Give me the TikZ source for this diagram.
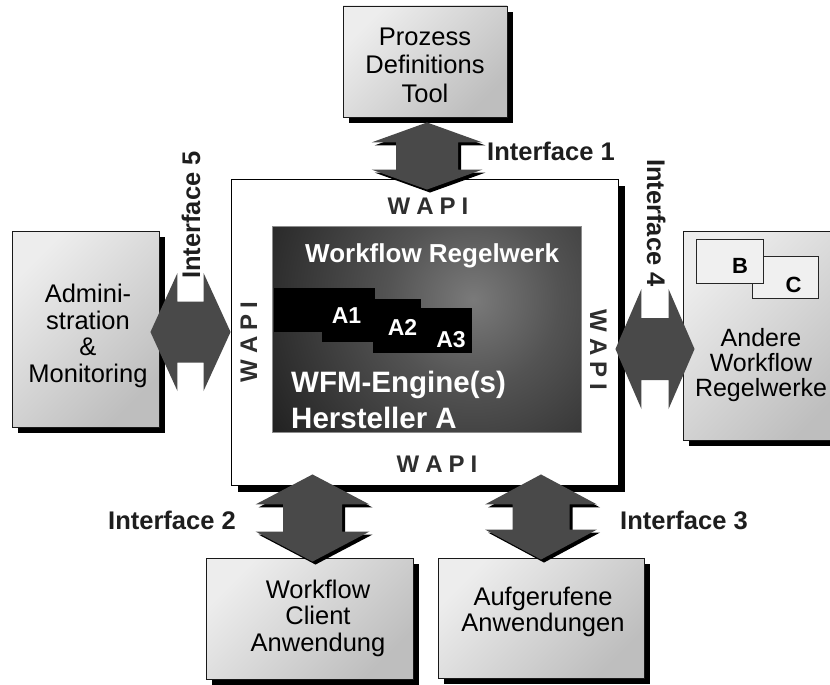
\documentclass[tikz,border=0pt]{standalone}
\usepackage{fontspec}
\setmainfont{Liberation Sans}
\usetikzlibrary{calc}

\definecolor{arrowgray}{HTML}{494949}
\definecolor{boxlight}{HTML}{EDEDED}
\definecolor{boxdark}{HTML}{BEBEBE}
\definecolor{labelink}{HTML}{1E1E1E}
\definecolor{wapiink}{HTML}{2E2E2E}
\definecolor{glowin}{HTML}{7A7A7A}
\definecolor{glowmid}{HTML}{535353}
\definecolor{glowout}{HTML}{1E1E1E}

% soft light spot inside the engine panel
\pgfdeclareradialshading{engineglow}{\pgfpoint{0bp}{0bp}}{%
  color(0bp)=(glowin); color(9bp)=(glowmid); color(26bp)=(glowout); color(50bp)=(glowout)}

\newcommand\wsp{\hspace{6pt}}

% outline of a double block arrow of length \arrlen along the x axis
% #1 head length, #2 head half width, #3 shaft half width
\newcommand\arrowoutline[3]{(0pt,0pt) -- (#1pt,#2pt) -- (#1pt,#3pt)
  -- ({\arrlen*1pt-#1pt},#3pt) -- ({\arrlen*1pt-#1pt},#2pt) -- ({\arrlen*1pt},0pt)
  -- ({\arrlen*1pt-#1pt},-#2pt) -- ({\arrlen*1pt-#1pt},-#3pt) -- (#1pt,-#3pt)
  -- (#1pt,-#2pt) -- cycle}

% double block arrow from tip #1 to tip #2
% #3 head length, #4 head half width, #5 shaft half width, #6 shadow offset
\newcommand\dblarrow[6]{%
  \path let \p1=(#1), \p2=(#2) in \pgfextra{%
    \pgfmathsetmacro\arrang{atan2(\y2-\y1,\x2-\x1)}%
    \pgfmathsetmacro\arrlen{veclen(\x2-\x1,\y2-\y1)}%
    \xdef\arrang{\arrang}\xdef\arrlen{\arrlen}%
    \xdef\arrx{\x1}\xdef\arry{\y1}};
  \ifdim#6pt>0pt
    \fill[black, shift={({\arrx+#6pt},{\arry-#6pt})}, rotate=\arrang] \arrowoutline{#3}{#4}{#5};
  \fi
  \fill[arrowgray, shift={(\arrx,\arry)}, rotate=\arrang] \arrowoutline{#3}{#4}{#5};
}

\begin{document}
\begin{tikzpicture}[x=1pt, y=-1pt,
  panel/.style={draw=black!90, line width=0.9pt, top color=boxlight, bottom color=boxdark,
    shading angle=45, preaction={fill=black, transform canvas={shift={(6pt,-6pt)}}},
    inner sep=0pt},
  coreframe/.style={draw=black, line width=0.9pt, fill=white,
    preaction={fill=black, transform canvas={shift={(7pt,-7pt)}}}, inner sep=0pt},
  minibox/.style={draw=black!85, line width=0.8pt, fill=black!6, inner sep=0pt},
  panetext/.style={align=center, inner sep=0pt, text=black,
    font=\fontsize{25.5}{26.5}\selectfont},
  engtext/.style={text=white, inner sep=0pt, anchor=base west,
    font=\bfseries\fontsize{29.5}{36}\selectfont},
  engineedge/.style={draw=black!45, line width=0.7pt},
  ablock/.style={fill=black, inner sep=0pt},
  alabel/.style={text=white, inner sep=0pt, anchor=base,
    font=\bfseries\fontsize{23}{23}\selectfont},
  boxletter/.style={text=black, inner sep=0pt,
    font=\bfseries\fontsize{22}{22}\selectfont},
  wapi/.style={text=wapiink, inner sep=0pt, anchor=base,
    font=\bfseries\fontsize{24}{24}\selectfont},
  iflabel/.style={text=labelink, inner sep=0pt,
    font=\bfseries\fontsize{25.5}{25.5}\selectfont}]

\clip (0,0) rectangle (830,685);
\fill[white] (0,0) rectangle (830,685);

% central frame with the WAPI interfaces
\node[coreframe, minimum width=387pt, minimum height=306pt] (core) at (424.5,332) {};

% surrounding components
\node[panel, minimum width=164pt, minimum height=111pt] (tool) at (425,61.5) {};
\node[panel, minimum width=147pt, minimum height=196pt] (admin) at (85.5,329) {};
\node[panel, minimum width=166pt, minimum height=209pt] (other) at (766,335.5) {};
\node[panel, minimum width=207pt, minimum height=121pt] (client) at (309.5,618.5) {};
\node[panel, minimum width=206pt, minimum height=120pt] (apps) at (541,618) {};

\node[panetext, font=\fontsize{25.5}{28.5}\selectfont] (tooltext) at (425,65) {Prozess\\Definitions\\Tool};
\node[panetext] (admintext) at (88,336) {Admini-\\stration\\\&\\Monitoring};
\node[panetext] (clienttext) at (318,618) {Workflow\\Client\\Anwendung};
\node[panetext] (appstext) at (543,612) {Aufgerufene\\Anwendungen};

% other workflow engines B and C
\node[minibox, minimum width=66pt, minimum height=42pt] (cbox) at (785,277) {};
\node[minibox, minimum width=67pt, minimum height=44pt] (bbox) at (729.5,261) {};
\node[boxletter] (bletter) at (740,265.5) {B};
\node[boxletter] (cletter) at (793.5,284.5) {C};
\node[panetext, font=\fontsize{25}{25.3}\selectfont] (othertext) at (761,365) {Andere\\Workflow\\Regelwerke};

% engine panel
\node[inner sep=0pt, minimum width=308pt, minimum height=205pt] (engine) at (427,329.5) {};
\begin{scope}
  \clip (engine.north west) rectangle (engine.south east);
  \shade[shading=engineglow] ($(engine.center)+(46,-29.5)$) circle [radius=240pt];
\end{scope}
\draw[engineedge] (engine.north west) rectangle (engine.south east);

\node[ablock, minimum width=101pt, minimum height=44pt] (blk1) at (324.5,310) {};
\node[ablock, minimum width=99pt, minimum height=43pt] (blk2) at (371.5,320.5) {};
\node[ablock, minimum width=99pt, minimum height=45pt] (blk3) at (422.5,330.5) {};
\node[alabel] (a1) at (346.5,323) {A1};
\node[alabel] (a2) at (402.5,335) {A2};
\node[alabel] (a3) at (451,347) {A3};

\node[engtext, font=\bfseries\fontsize{26}{26}\selectfont] (rules) at (305,262) {Workflow Regelwerk};
\node[engtext] (wfm) at (291,392) {WFM-Engine(s)};
\node[engtext] (vendor) at (291,428) {Hersteller A};

% WAPI labels on the four sides
\node[wapi] (wapitop) at (428,214) {W\wsp A\wsp P\wsp I};
\node[wapi] (wapibot) at (437,472) {W\wsp A\wsp P\wsp I};
\node[wapi, rotate=90] (wapileft) at (257,342) {W\wsp A\wsp P\wsp I};
\node[wapi, rotate=-90] (wapiright) at (590,350) {W\wsp A\wsp P\wsp I};

% arrow end points
\coordinate (t1a) at ($(tool.south)+(2,5)$);
\coordinate (t1b) at ($(core.north)+(2.5,11)$);
\coordinate (t2a) at ($(core.south)+(-112,-11)$);
\coordinate (t2b) at ($(client.north)+(3,4)$);
\coordinate (t3a) at ($(core.south)+(116.5,-11)$);
\coordinate (t3b) at ($(apps.north)+(0,2)$);
\coordinate (t5a) at ($(admin.east)+(-9,3)$);
\coordinate (t5b) at ($(core.west)+(0,0)$);
\coordinate (t4a) at ($(core.east)+(-3,17)$);
\coordinate (t4b) at ($(other.west)+(12,13.5)$);

\dblarrow{t1a}{t1b}{20}{55.5}{31}{3}
\dblarrow{t2a}{t2b}{30}{57}{29.5}{3}
\dblarrow{t3a}{t3b}{30}{56}{28.5}{3}
\dblarrow{t5a}{t5b}{27}{59}{30.5}{0}
\dblarrow{t4a}{t4b}{26}{60}{31}{0}

% interface labels
\node[iflabel, anchor=base west] (if1) at (487,160) {Interface 1};
\node[iflabel, anchor=base east] (if2) at (236,529) {Interface 2};
\node[iflabel, anchor=base west] (if3) at (620,529) {Interface 3};
\node[iflabel, anchor=base, rotate=-90] (if4) at (647,223) {Interface 4};
\node[iflabel, anchor=base, rotate=90] (if5) at (200,215) {Interface 5};
\end{tikzpicture}
\end{document}
